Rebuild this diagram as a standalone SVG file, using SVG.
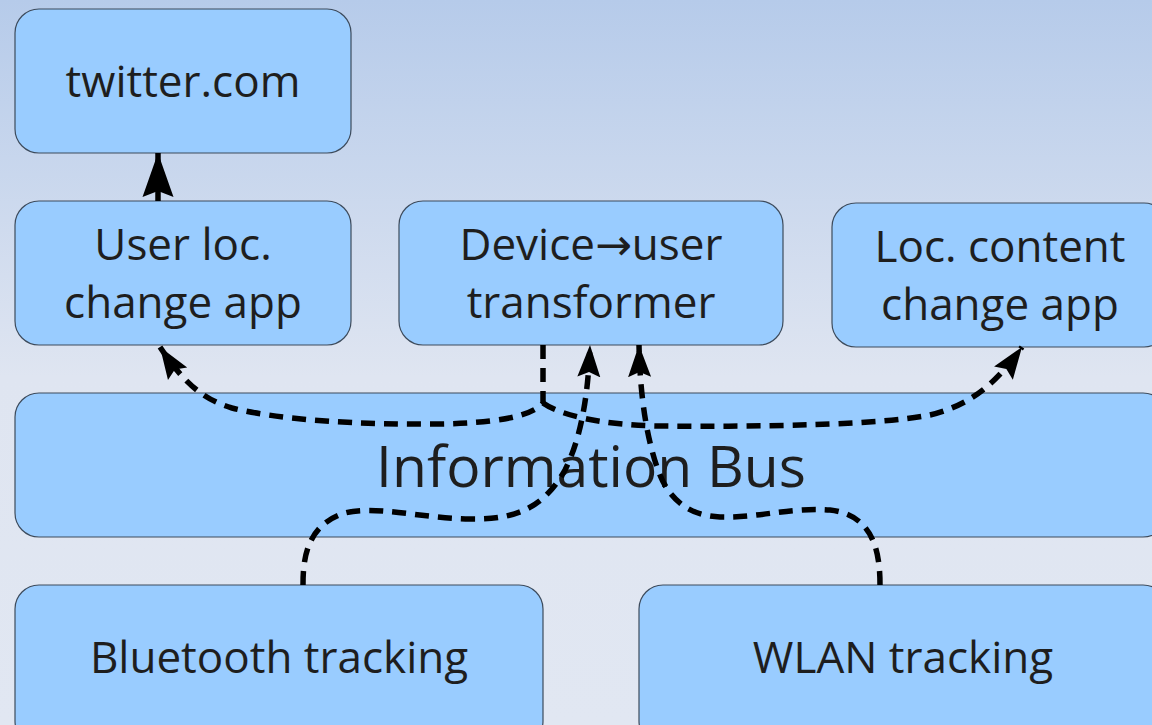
<svg xmlns="http://www.w3.org/2000/svg" width="1152" height="725" viewBox="0 0 1152 725">
<style>
.box{fill:#99ccff;stroke:#3d4b5c;stroke-width:1.2}
.lbl{font-family:"Open Sans","Noto Sans","DejaVu Sans",sans-serif;font-size:44px;fill:#1e1e1e;text-anchor:middle}
.big{font-size:57px}
.dash{fill:none;stroke:#000;stroke-width:5.5;stroke-dasharray:14 9}
.solid{fill:none;stroke:#000;stroke-width:5.5}
</style>
<defs>
<linearGradient id="bg" x1="0" y1="0" x2="0" y2="1">
<stop offset="0" stop-color="#b6cbea"/>
<stop offset="0.52" stop-color="#dfe5f1"/>
<stop offset="1" stop-color="#e1e7f2"/>
</linearGradient>
<marker id="ah" markerUnits="userSpaceOnUse" markerWidth="34" markerHeight="26" viewBox="0 -13 34 26" refX="32" refY="0" orient="auto">
<path d="M0,-11.5 L32,0 L0,11.5 L5,0 Z" fill="#000"/>
</marker>
<marker id="ahb" markerUnits="userSpaceOnUse" markerWidth="46" markerHeight="34" viewBox="0 -17 46 34" refX="44" refY="0" orient="auto">
<path d="M0,-15.5 L44,0 L0,15.5 L6,0 Z" fill="#000"/>
</marker>
</defs>
<rect width="1152" height="725" fill="url(#bg)"/>
<g id="twitter">
<rect class="box" x="15" y="9" width="336" height="144" rx="24"/>
<text class="lbl" x="183" y="97">twitter.com</text>
</g>
<g id="userloc">
<rect class="box" x="15" y="201" width="336" height="144" rx="24"/>
<text class="lbl" x="183" y="260">User loc.</text>
<text class="lbl" x="183" y="318">change app</text>
</g>
<g id="transformer">
<rect class="box" x="399" y="201" width="384" height="144" rx="24"/>
<text class="lbl" x="591" y="260">Device→user</text>
<text class="lbl" x="591" y="318">transformer</text>
</g>
<g id="loccontent">
<rect class="box" x="832" y="203" width="336" height="144" rx="24"/>
<text class="lbl" x="1000" y="262">Loc. content</text>
<text class="lbl" x="1000" y="320">change app</text>
</g>
<g id="bus">
<rect class="box" x="15" y="393" width="1152" height="144" rx="24"/>
<text class="lbl big" x="591" y="487">Information Bus</text>
</g>
<g id="bluetooth">
<rect class="box" x="15" y="585" width="528" height="160" rx="24"/>
<text class="lbl" x="279" y="673">Bluetooth tracking</text>
</g>
<g id="wlan">
<rect class="box" x="639" y="585" width="528" height="160" rx="24"/>
<text class="lbl" x="903" y="673">WLAN tracking</text>
</g>
<g id="connectors">
<path class="solid" d="M158,201 L158,153" marker-end="url(#ahb)"/>
<path class="dash" d="M543,345 L543,403 C530,418 490,423 440,424 C360,425 280,420 232,408 C205,400 185,385 160,347" marker-end="url(#ah)"/>
<path class="dash" d="M543,403 C560,415 600,425 660,426 C760,427 880,425 930,415 C970,405 995,385 1022,347" marker-end="url(#ah)"/>
<path class="dash" d="M303,585 C303,560 306,525 345,513 C375,505 420,518 470,519 C520,520 545,505 565,470 C580,440 588,400 590,345" marker-end="url(#ah)"/>
<path class="dash" d="M880,585 C880,555 875,515 830,510 C790,507 760,518 720,517 C690,516 670,500 660,475 C648,445 640,400 639,345" marker-end="url(#ah)"/>
</g>
</svg>
